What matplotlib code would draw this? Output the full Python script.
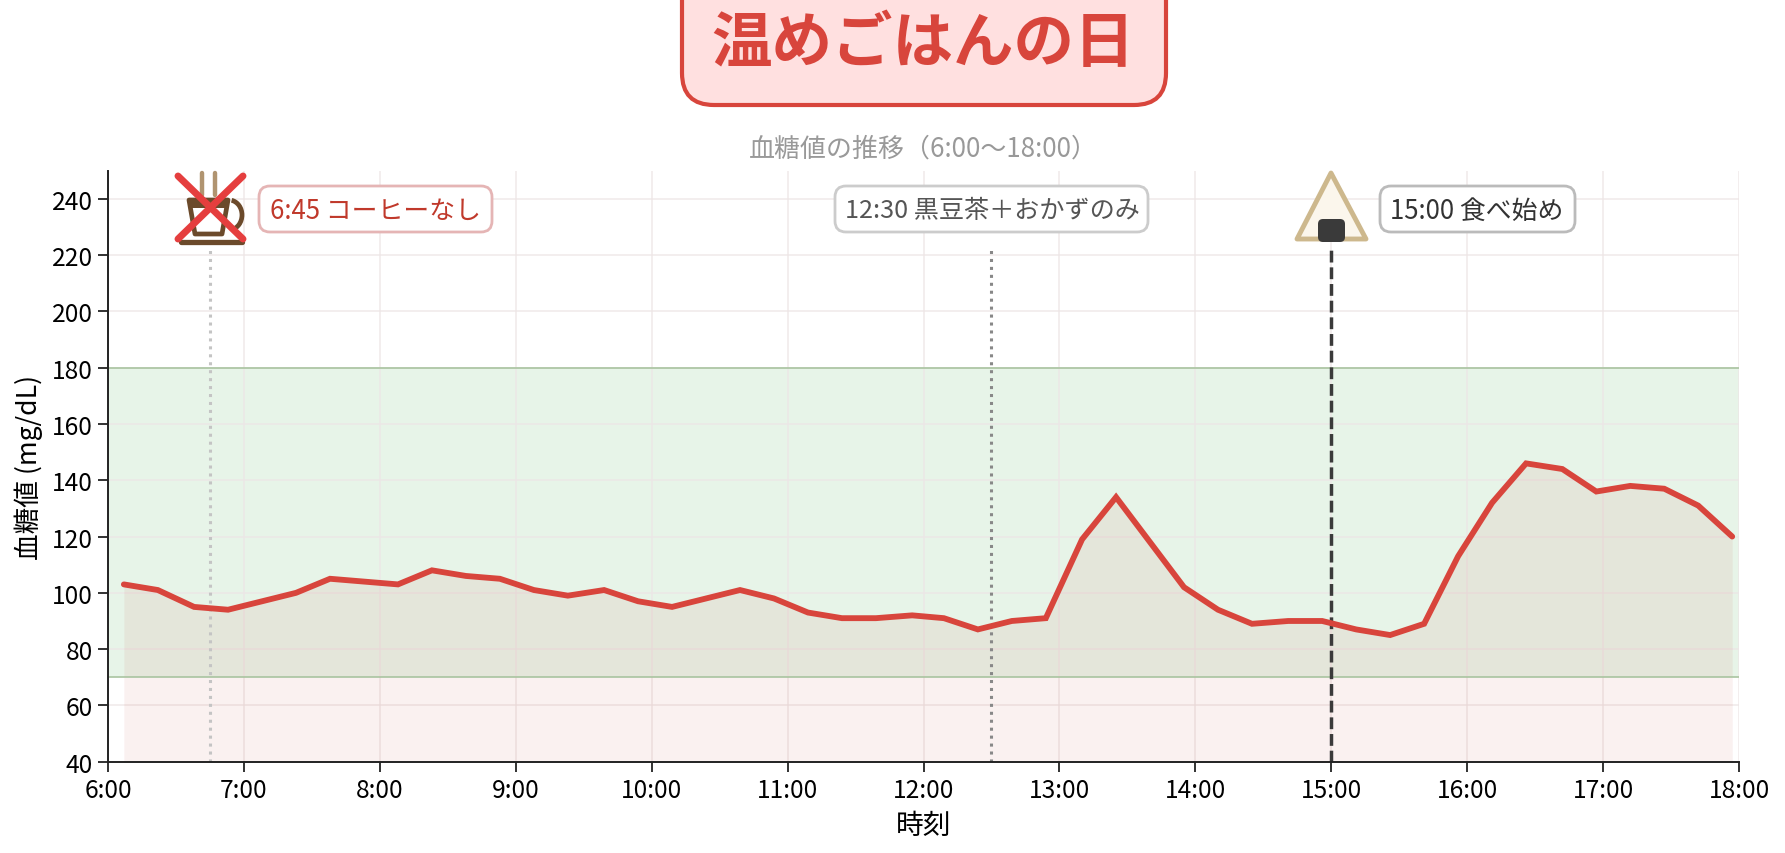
import matplotlib
matplotlib.use("Agg")
import matplotlib.pyplot as plt
from matplotlib.patches import FancyBboxPatch, Polygon, Arc

plt.rcParams['font.family'] = ['Noto Sans CJK JP', 'DejaVu Sans']

# CGM readings
times = ["6:07", "6:22", "6:38", "6:53", "7:08", "7:23", "7:38", "7:53",
         "8:08", "8:23", "8:38", "8:53", "9:08", "9:23", "9:39", "9:54",
         "10:09", "10:24", "10:39", "10:54", "11:09", "11:24", "11:39", "11:55",
         "12:09", "12:24", "12:39", "12:54", "13:10", "13:25", "13:40", "13:55",
         "14:10", "14:25", "14:41", "14:56", "15:11", "15:26", "15:41", "15:56",
         "16:11", "16:26", "16:42", "16:57", "17:12", "17:27", "17:42", "17:57"]
glucose = [103, 101, 95, 94, 97, 100, 105, 104,
           103, 108, 106, 105, 101, 99, 101, 97,
           95, 98, 101, 98, 93, 91, 91, 92,
           91, 87, 90, 91, 119, 134, 118, 102,
           94, 89, 90, 90, 87, 85, 89, 113,
           132, 146, 144, 136, 138, 137, 131, 120]

hour_ticks = list(range(6, 19))
value_ticks = list(range(40, 241, 20))
target_low = 70
target_high = 180

event_times = ["6:45", "12:30", "15:00"]
event_labels = ["6:45 コーヒーなし", "12:30 黒豆茶＋おかずのみ", "15:00 食べ始め"]


def to_hours(s):
    h, m = s.split(":")
    return int(h) + int(m) / 60


W, H = 1785, 854
fig = plt.figure(figsize=(W / 100, H / 100), dpi=100)
ax = fig.add_axes([108 / W, 1 - 762.7 / H, (1739 - 108) / W, 591 / H])

x = [to_hours(t) for t in times]

ax.axhspan(target_low, target_high, facecolor="#4CAF50", alpha=0.13, lw=0, zorder=1)
ax.axhline(target_low, color="#A9C4A0", lw=1.2, zorder=1.8)
ax.axhline(target_high, color="#A9C4A0", lw=1.2, zorder=1.8)
ax.fill_between(x, glucose, 40, color="#C0392B", alpha=0.07, lw=0, zorder=1.6)
ax.grid(True, color="#EDE6E6", lw=1.1, alpha=0.85, zorder=1.7)
for line in ax.get_xgridlines() + ax.get_ygridlines():
    line.set_zorder(1.7)

ev = [to_hours(t) for t in event_times]
ax.plot([ev[0], ev[0]], [40, 222], color="#C4C4C4", lw=2.2, ls=(0, (1, 1.6)), zorder=2)
ax.plot([ev[1], ev[1]], [40, 222], color="#888888", lw=2.2, ls=(0, (1, 1.6)), zorder=2)
ax.plot([ev[2], ev[2]], [40, 222], color="#3A3A3A", lw=2.5, ls=(0, (3.4, 1.4)), zorder=2)

ax.plot(x, glucose, color="#D8453C", lw=4.2, solid_capstyle="round",
        solid_joinstyle="miter", zorder=3)

ax.set_xlim(6, 18)
ax.set_ylim(40, 250)
ax.set_xticks(hour_ticks)
ax.set_xticklabels([f"{h}:00" for h in hour_ticks])
ax.set_yticks(value_ticks)
ax.tick_params(labelsize=17.7, length=7, width=1.3, color="#222222", pad=4)
for side in ["top", "right"]:
    ax.spines[side].set_visible(False)
for side in ["left", "bottom"]:
    ax.spines[side].set_color("#222222")
    ax.spines[side].set_linewidth(1.4)
ax.set_xlabel("時刻", fontsize=20, labelpad=5)
ax.set_ylabel("血糖値 (mg/dL)", fontsize=19.2, labelpad=6)
ax.set_title("血糖値の推移（6:00～18:00）", fontsize=18.7, color="#999999", pad=11)

# pixel-space layer for the banner, icons and callouts
ov = fig.add_axes([0, 0, 1, 1], zorder=5)
ov.set_xlim(0, W)
ov.set_ylim(H, 0)
ov.axis("off")
ov.patch.set_alpha(0)


def rbox(x0, y0, x1, y1, r, **kw):
    p = FancyBboxPatch((x0 + r, y0 + r), x1 - x0 - 2 * r, y1 - y0 - 2 * r,
                       boxstyle=f"round,pad={r},rounding_size={r}", **kw)
    ov.add_patch(p)


rbox(682, -40, 1166, 106, 32, fc="#FFE0E0", ec="#D8453C", lw=3)
ov.text(923, 44, "温めごはんの日", fontsize=43.6, fontweight="bold", color="#D8453C",
        ha="center", va="center")

boxes = [(259, 187, 492, 233, "#E5B5B5", "#C0392B", 18.6, 375),
         (835, 187, 1148, 233, "#CCCCCC", "#555555", 18.1, 992),
         (1380, 187, 1575, 233, "#BBBBBB", "#333333", 18.6, 1477)]
for b, label in zip(boxes, event_labels):
    rbox(b[0], b[1], b[2], b[3], 11, fc="white", ec=b[4], lw=2)
    ov.text(b[7], (b[1] + b[3]) / 2 + 1, label, fontsize=b[6], color=b[5],
            ha="center", va="center")

# coffee cup, crossed out
steam = "#B09470"
brown = "#6B4A2B"
for sx in [202, 215]:
    ov.plot([sx, sx], [174, 196], color=steam, lw=3.2, solid_capstyle="round")
ov.add_patch(Polygon([(189, 201), (228, 201), (227, 209), (191, 209)], fc=brown, ec="none"))
ov.add_patch(Polygon([(189, 201), (228, 201), (222, 235), (195, 235)], closed=True,
                     fc="none", ec=brown, lw=3.4, joinstyle="round"))
ov.add_patch(Arc((229, 216), 26, 30, theta1=-80, theta2=80, color=brown, lw=3.4))
ov.plot([181, 242], [243, 243], color=brown, lw=3.8, solid_capstyle="round")
ov.plot([178, 243], [177, 240], color="#E53E3E", lw=5, solid_capstyle="round")
ov.plot([243, 178], [177, 240], color="#E53E3E", lw=5, solid_capstyle="round")

# rice ball
ov.add_patch(Polygon([(1331, 174), (1297, 240), (1366, 240)], closed=True,
                     fc="#FBF6EC", ec="#CDB88D", lw=3.5, joinstyle="round"))
rbox(1318, 220, 1345, 243, 5, fc="#3A3A3A", ec="none")

fig.savefig("out.png", dpi=100)
